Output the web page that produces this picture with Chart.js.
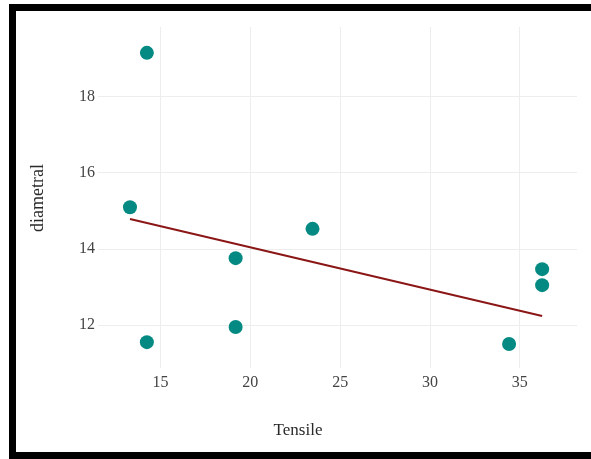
<!DOCTYPE html>
<html>
<head>
<meta charset="utf-8">
<script src="https://cdn.jsdelivr.net/npm/chart.js@4/dist/chart.umd.min.js"></script>
<style>
  html, body { margin: 0; padding: 0; background: #fff; }
  #wrap { position: relative; width: 591px; height: 459px; overflow: hidden; }
  #frame { position: absolute; left: 9px; top: 4px; right: -20px; bottom: 0; border-left: 7px solid #000; border-top: 7px solid #000; border-bottom: 7px solid #000; pointer-events: none; }
  .axis-title { position: absolute; font-family: "Liberation Serif", "DejaVu Serif", serif; color: #2a2a2a; white-space: nowrap; }
  #xTitle { left: 298px; top: 430px; font-size: 17px; transform: translate(-50%, -50%); }
  #yTitle { left: 37px; top: 198px; font-size: 18px; transform: translate(-50%, -50%) rotate(-90deg); }
</style>
</head>
<body>
<div id="wrap">
  <canvas id="chart" width="591" height="459"></canvas>
  <div id="xTitle" class="axis-title">Tensile</div>
  <div id="yTitle" class="axis-title">diametral</div>
  <div id="frame"></div>
</div>
<script>
// observed points
const tensile   = [14.24, 13.3, 14.24, 19.18, 19.18, 23.46, 34.4, 36.24, 36.24];
const diametral = [19.16, 15.1, 11.55, 13.76, 11.95, 14.53, 11.5, 13.47, 13.05];

// fitted line ends
const fitX = [13.3, 36.24];
const fitY = [14.79, 12.24];

const xTicks = [15, 20, 25, 30, 35];
const yTicks = [12, 14, 16, 18];

const grid = { color: '#ededed', lineWidth: 1, drawTicks: false };
const tickFont = { family: '"Liberation Serif", serif', size: 16 };

new Chart(document.getElementById('chart'), {
    type: 'scatter',
    data: {
        datasets: [
            {
                data: tensile.map((x, i) => ({ x: x, y: diametral[i] })),
                backgroundColor: '#048a82', borderColor: '#048a82',
                pointRadius: 7, pointHoverRadius: 7, borderWidth: 0, order: 2
            },
            {
                type: 'line',
                data: fitX.map((x, i) => ({ x: x, y: fitY[i] })),
                borderColor: '#8b1616', borderWidth: 2, pointRadius: 0, fill: false, order: 1
            }
        ]
    },
    options: {
        responsive: false, animation: false,
        layout: { padding: { left: 0, right: 14, top: 27, bottom: 0 } },
        plugins: { legend: { display: false }, tooltip: { enabled: false } },
        scales: {
            x: {
                type: 'linear', min: 11.52, max: 38.18,
                grid: grid, border: { display: false },
                afterBuildTicks: s => { s.ticks = xTicks.map(v => ({ value: v })); },
                afterFit: s => { s.height = 91; },
                ticks: { font: tickFont, color: '#444', padding: 5, maxRotation: 0 }
            },
            y: {
                type: 'linear', min: 10.87, max: 19.84,
                grid: grid, border: { display: false },
                afterBuildTicks: s => { s.ticks = yTicks.map(v => ({ value: v })); },
                afterFit: s => { s.width = 98; },
                ticks: { font: tickFont, color: '#444', padding: 3 }
            }
        }
    }
});
</script>
</body>
</html>
